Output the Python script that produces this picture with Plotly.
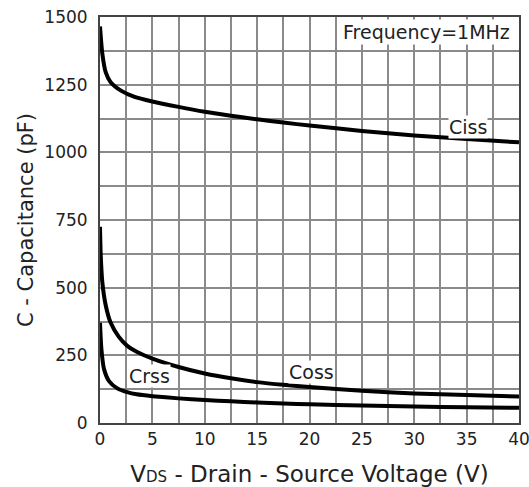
import plotly.graph_objects as go

# Drain-source voltage sample points (V) for each curve
vds_ciss = [0, 0.22, 0.55, 1, 2, 3.3, 5, 7.5, 10, 12.5, 15, 17.5, 20, 25, 30, 35, 40]
ciss = [1465, 1365, 1295, 1260, 1228, 1205, 1188, 1168, 1150, 1135, 1122, 1110, 1099, 1079, 1062, 1049, 1037]

vds_coss = [0, 0.07, 0.22, 0.55, 1, 1.8, 2.6, 3.5, 5, 7.5, 10, 12.5, 15, 17.5, 20, 25, 30, 35, 40]
coss = [725, 620, 521, 434, 372, 318, 285, 263, 238, 207, 183, 165, 151, 141, 133, 119, 109, 103, 98]

vds_crss = [0, 0.13, 0.38, 0.86, 1.66, 2.6, 3.5, 5, 7.5, 10, 12.5, 15, 17.5, 20, 25, 30, 35, 40]
crss = [370, 275, 200, 155, 128, 114, 106, 99, 91, 85, 80, 76, 72, 69, 65, 61, 58, 56]

x_ticks = [0, 5, 10, 15, 20, 25, 30, 35, 40]
y_ticks = [0, 250, 500, 750, 1000, 1250, 1500]

FONT = "DejaVu Sans, Arial, sans-serif"
TEXT = "#222"
GRID = "#8a8a8a"

fig = go.Figure()
for name, xs, ys in (("Ciss", vds_ciss, ciss), ("Coss", vds_coss, coss), ("Crss", vds_crss, crss)):
    fig.add_trace(go.Scatter(
        x=xs, y=ys, mode="lines", name=name,
        line=dict(color="black", width=4, shape="spline", smoothing=0.6),
        showlegend=False,
    ))

# Curve labels on white patches
labels = [
    ("Ciss", 35.1, 1095),
    ("Coss", 20.2, 187),
    ("Crss", 4.75, 172),
]
for text, x, y in labels:
    fig.add_annotation(x=x, y=y, text=text, showarrow=False,
                       font=dict(family=FONT, size=19, color=TEXT),
                       bgcolor="white", borderpad=0)

# Test condition
fig.add_annotation(x=31.2, y=1444, text="Frequency=1MHz", showarrow=False,
                   font=dict(family=FONT, size=19, color=TEXT),
                   bgcolor="white", borderpad=1)

fig.update_layout(
    width=529, height=487,
    margin=dict(l=100, r=10, t=17, b=64),
    paper_bgcolor="white", plot_bgcolor="white",
    font=dict(family=FONT, color=TEXT),
)

# Grid every 2.5 V; labels every 5 V
x_grid = [i * 2.5 for i in range(17)]
fig.update_xaxes(
    range=[0, 40], tickmode="array", tickvals=x_grid,
    ticktext=[str(int(v)) if v in x_ticks else "" for v in x_grid],
    tickfont=dict(size=17, color=TEXT), ticks="", ticklabeloverflow="allow",
    showgrid=True, gridcolor=GRID, gridwidth=1.5,
    showline=True, linecolor="#444", linewidth=2, mirror=True,
    zeroline=False, automargin=False,
    title=dict(text="V<span style='font-size:15px'>DS</span> - Drain - Source Voltage (V)",
               font=dict(size=23, color=TEXT), standoff=20),
)

# Grid every 125 pF; labels every 250 pF
y_grid = [i * 125 for i in range(13)]
fig.update_yaxes(
    range=[0, 1500], tickmode="array", tickvals=y_grid,
    ticktext=[str(v) if v in y_ticks else "" for v in y_grid],
    tickfont=dict(size=17, color=TEXT), ticks="", ticklabelstandoff=7,
    ticklabeloverflow="allow",
    showgrid=True, gridcolor=GRID, gridwidth=1.5,
    showline=True, linecolor="#444", linewidth=2, mirror=True,
    zeroline=False, automargin=False,
    title=dict(text="C - Capacitance (pF)", font=dict(size=21, color=TEXT), standoff=5),
)

fig.write_html("out.html")
